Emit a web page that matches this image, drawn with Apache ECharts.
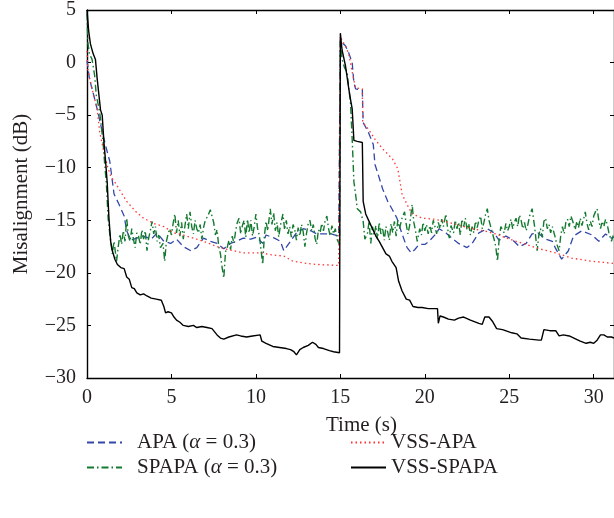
<!DOCTYPE html>
<html>
<head>
<meta charset="utf-8">
<script src="https://cdn.jsdelivr.net/npm/echarts@6/dist/echarts.min.js"></script>
<style>
html,body{margin:0;padding:0;background:#fff;}
#chart{width:614px;height:518px;}
</style>
</head>
<body>
<div id="chart"></div>
<script>
// ---- data (time in s, misalignment in dB) ----
const seriesNames = ['APA (α = 0.3)', 'SPAPA (α = 0.3)', 'VSS-APA', 'VSS-SPAPA'];
const xTicks = [0, 5, 10, 15, 20, 25, 30];
const yTicks = [-30, -25, -20, -15, -10, -5, 0, 5];

const apaData = [
[0,0.2],[0.15,-1.6],[0.35,-2.8],[0.6,-4.4],[0.95,-6.9],[1.15,-8.2],[1.35,-9.4],[1.6,-12.5],[1.9,-13.5],[2.2,-14.6],[2.35,-16.0],[2.6,-16.9],[2.95,-16.7],[3.35,-16.5],[3.8,-16.8],[4.15,-16.2],[4.55,-17.0],[4.95,-17.2],[5.3,-16.8],[5.7,-17.5],[6.15,-17.9],[6.5,-17.6],[6.9,-16.7],[7.3,-17.0],[7.7,-17.2],[8.1,-17.7],[8.5,-17.2],[8.85,-17.0],[9.25,-16.7],[9.7,-16.8],[10.05,-16.6],[10.4,-17.2],[10.6,-16.4],[11.1,-16.7],[11.45,-17.0],[11.65,-17.9],[12.05,-17.0],[12.4,-16.2],[12.8,-15.8],[13.25,-16.0],[13.6,-16.3],[14.0,-16.3],[14.45,-16.3],[14.9,-16.5],
[15.0,2.2],[15.1,1.9],[15.3,1.6],[15.5,0.9],[15.7,0],[15.8,-1.9],[15.9,-2.5],[16.3,-2.6],[16.35,-5.7],[16.65,-6.6],[16.95,-7.8],[17.05,-9.7],[17.25,-10.7],[17.5,-12.0],[17.8,-13.2],[18.05,-13.9],[18.35,-14.8],[18.65,-16.3],[18.95,-17.6],[19.2,-18.1],[19.4,-17.8],[19.65,-17.3],[20.0,-17.3],[20.25,-17.0],[20.65,-16.3],[20.85,-15.8],[21.25,-16.2],[21.6,-16.7],[22.0,-17.2],[22.5,-17.6],[22.8,-17.2],[23.2,-16.2],[23.7,-15.8],[24.1,-16.2],[24.4,-16.9],[24.8,-16.5],[25.15,-16.8],[25.6,-17.5],[26.0,-17.2],[26.35,-16.3],[26.7,-16.2],[27.15,-16.8],[27.55,-17.0],[27.75,-17.7],[28.1,-18.7],[28.3,-18.3],[28.5,-17.9],[28.8,-16.5],[29.3,-16.0],[29.9,-16.4],[30.3,-17.0],[30.7,-16.3],[31.05,-16.7],[31.2,-16.6]
];

const spapaData = [
[0,4.7],[0.05,1.9],[0.15,0.8],[0.3,0.3],[0.45,-1.2],[0.55,-3.1],[0.75,-4.7],[0.95,-7.5],[1.05,-9.7],[1.15,-11.6],[1.25,-14.8],[1.35,-16.3],[1.5,-18.2],[1.6,-17.0],[1.75,-18.9],[1.85,-17.5],[1.95,-16.3],[2.05,-17.3],[2.15,-16.0],[2.25,-17.0],[2.35,-14.8],[2.45,-16.5],[2.55,-17.0],[2.65,-15.8],[2.75,-16.8],[2.85,-17.6],[2.95,-16.2],[3.05,-16.5],[3.15,-17.3],[3.25,-15.9],[3.35,-16.8],[3.45,-16.0],[3.55,-17.9],[3.65,-16.7],[3.75,-16.0],[3.85,-15.1],[3.95,-16.3],[4.05,-15.6],[4.15,-17.0],[4.25,-16.4],[4.35,-17.6],[4.5,-17.2],[4.6,-18.9],[4.7,-17.0],[4.8,-16.3],[4.9,-15.8],[5.0,-16.4],[5.1,-15.3],[5.2,-14.4],[5.3,-16.2],[5.4,-15.0],[5.5,-16.5],[5.6,-15.2],[5.7,-16.8],[5.8,-15.5],[5.9,-14.4],[6.0,-15.8],[6.1,-14.2],[6.2,-15.6],[6.3,-16.3],[6.4,-15.0],[6.5,-15.8],[6.6,-16.2],[6.7,-15.4],[6.8,-16.8],[6.9,-15.7],[7.0,-15.0],[7.15,-14.6],[7.3,-14.0],[7.4,-13.9],[7.5,-15.2],[7.6,-16.4],[7.7,-15.9],[7.8,-17.5],[7.9,-18.2],[8.0,-19.5],[8.1,-20.5],[8.2,-18.0],[8.3,-17.6],[8.4,-16.9],[8.5,-17.8],[8.6,-16.5],[8.7,-17.2],[8.8,-16.0],[8.9,-15.2],[9.0,-14.8],[9.1,-16.3],[9.2,-15.5],[9.3,-15.0],[9.4,-16.6],[9.5,-14.9],[9.6,-16.2],[9.7,-15.0],[9.8,-16.5],[9.9,-15.6],[10.0,-14.4],[10.1,-15.8],[10.2,-16.4],[10.3,-17.8],[10.4,-19.2],[10.5,-16.5],[10.6,-15.1],[10.7,-16.0],[10.85,-13.9],[10.95,-15.4],[11.05,-14.3],[11.15,-16.0],[11.25,-15.2],[11.35,-16.6],[11.45,-15.5],[11.6,-14.4],[11.7,-15.9],[11.8,-15.0],[11.9,-16.3],[12.0,-15.6],[12.1,-16.6],[12.2,-15.4],[12.3,-15.9],[12.4,-16.9],[12.5,-15.7],[12.6,-16.5],[12.7,-15.4],[12.8,-16.1],[12.9,-17.5],[13.0,-16.2],[13.1,-15.3],[13.2,-15.0],[13.3,-16.0],[13.4,-15.4],[13.5,-16.7],[13.6,-17.3],[13.7,-15.9],[13.8,-16.2],[13.9,-15.3],[14.0,-16.0],[14.1,-15.0],[14.2,-14.6],[14.3,-15.8],[14.4,-16.5],[14.5,-15.5],[14.6,-16.3],[14.7,-15.8],[14.8,-16.8],[14.95,-17.3],
[15.0,2.0],[15.1,0.3],[15.25,-0.5],[15.4,-0.9],[15.5,-2.5],[15.6,-3.8],[15.7,-7.3],[15.8,-11.3],[15.9,-12.5],[16.0,-13.9],[16.2,-14.2],[16.35,-15.1],[16.45,-16.8],[16.6,-16.3],[16.7,-15.1],[16.8,-17.2],[16.9,-15.6],[17.0,-16.4],[17.1,-15.5],[17.2,-16.8],[17.3,-15.2],[17.4,-16.3],[17.5,-15.7],[17.6,-16.9],[17.7,-15.6],[17.8,-16.1],[17.9,-16.9],[18.0,-15.3],[18.1,-16.2],[18.2,-15.1],[18.3,-16.5],[18.4,-15.0],[18.5,-15.8],[18.65,-14.8],[18.8,-14.2],[18.9,-15.4],[19.0,-16.3],[19.1,-15.5],[19.25,-13.5],[19.35,-15.2],[19.45,-16.0],[19.55,-17.0],[19.7,-15.8],[19.8,-16.4],[19.9,-15.2],[20.0,-16.0],[20.1,-15.4],[20.2,-16.3],[20.3,-15.5],[20.4,-16.2],[20.5,-15.0],[20.6,-15.6],[20.7,-16.3],[20.8,-15.2],[20.9,-15.8],[21.0,-14.9],[21.1,-15.6],[21.25,-14.4],[21.35,-15.8],[21.45,-16.7],[21.55,-15.5],[21.7,-16.2],[21.8,-15.0],[21.9,-15.8],[22.0,-15.2],[22.1,-16.4],[22.2,-14.9],[22.3,-15.6],[22.4,-14.8],[22.5,-15.9],[22.6,-15.3],[22.7,-16.4],[22.8,-15.6],[22.9,-16.2],[23.0,-15.1],[23.1,-15.7],[23.2,-15.0],[23.3,-14.6],[23.4,-15.8],[23.5,-15.2],[23.6,-14.4],[23.7,-13.9],[23.8,-15.0],[23.9,-15.6],[24.0,-16.2],[24.1,-16.8],[24.2,-17.5],[24.3,-18.9],[24.4,-16.8],[24.5,-15.6],[24.6,-15.5],[24.7,-16.2],[24.8,-15.3],[24.9,-16.0],[25.0,-15.6],[25.1,-14.9],[25.2,-15.8],[25.3,-15.2],[25.4,-14.8],[25.5,-15.6],[25.6,-14.5],[25.7,-15.0],[25.8,-15.8],[25.9,-15.2],[26.0,-16.0],[26.1,-15.4],[26.2,-14.6],[26.35,-13.9],[26.5,-15.6],[26.65,-17.9],[26.75,-16.4],[26.85,-15.8],[26.95,-16.6],[27.05,-15.1],[27.15,-14.8],[27.25,-15.8],[27.35,-15.4],[27.45,-16.2],[27.55,-15.6],[27.7,-16.5],[27.8,-17.2],[27.95,-17.9],[28.05,-16.4],[28.15,-15.6],[28.25,-16.3],[28.35,-15.2],[28.45,-14.9],[28.55,-15.6],[28.65,-14.6],[28.8,-15.3],[28.9,-15.9],[29.0,-15.1],[29.1,-15.7],[29.2,-14.8],[29.3,-15.5],[29.4,-14.9],[29.5,-14.2],[29.6,-15.3],[29.7,-15.9],[29.8,-15.1],[29.9,-15.6],[30.0,-14.6],[30.1,-14.2],[30.2,-13.9],[30.3,-15.0],[30.4,-15.8],[30.5,-15.1],[30.6,-15.6],[30.7,-14.9],[30.8,-15.4],[30.9,-16.2],[31.05,-17.0],[31.2,-16.2]
];

const vssApaData = [
[0,1.1],[0.05,-0.7],[0.3,-2.5],[0.6,-4.4],[0.75,-6.6],[1.0,-8.5],[1.2,-9.8],[1.4,-10.8],[1.7,-11.5],[2.0,-12.3],[2.35,-13.2],[2.9,-14.2],[3.35,-14.8],[3.95,-15.3],[4.55,-15.6],[5.15,-16.2],[5.7,-16.4],[6.3,-16.7],[6.9,-17.0],[7.7,-17.5],[8.1,-17.7],[8.7,-17.9],[9.25,-18.1],[10.3,-18.1],[11.0,-18.3],[11.65,-18.4],[12.2,-18.9],[13.0,-19.1],[13.6,-19.2],[14.9,-19.3],
[15.0,2.5],[15.1,2.1],[15.3,1.6],[15.5,0.8],[15.7,-0.9],[15.9,-2.4],[16.3,-2.5],[16.32,-5.7],[16.65,-6.3],[17.05,-7.3],[17.5,-8.2],[18.1,-9.2],[18.4,-10.1],[18.55,-11.5],[18.65,-12.5],[18.95,-13.5],[19.25,-14.4],[19.85,-14.8],[20.6,-14.9],[21.4,-15.2],[22.1,-15.5],[22.8,-15.8],[23.5,-16.0],[24.2,-16.3],[25.2,-16.9],[26.0,-17.3],[26.75,-17.7],[27.75,-18.1],[28.7,-18.6],[29.9,-18.9],[31.2,-19.1]
];

const vssSpapaData = [
[0,5],[0.1,3.0],[0.2,1.8],[0.35,0.9],[0.5,0.3],[0.6,-1.5],[0.7,-3.0],[0.8,-4.5],[0.9,-5.0],[1.0,-7.5],[1.1,-9.4],[1.2,-11.5],[1.25,-13.2],[1.3,-14.8],[1.4,-17.0],[1.5,-17.9],[1.65,-18.7],[1.8,-19.2],[2.0,-19.5],[2.2,-19.6],[2.35,-20.4],[2.5,-20.6],[2.65,-21.4],[2.8,-21.5],[2.95,-21.9],[3.15,-22.1],[3.35,-22.0],[3.55,-22.2],[3.8,-22.4],[4.1,-22.5],[4.4,-22.6],[4.55,-23.2],[4.65,-23.8],[4.8,-23.7],[5.0,-23.8],[5.15,-24.2],[5.3,-24.5],[5.5,-24.7],[5.7,-25.0],[6.0,-25.1],[6.3,-25.0],[6.5,-25.2],[6.8,-25.1],[7.1,-25.2],[7.4,-25.3],[7.7,-25.9],[7.9,-26.2],[8.1,-26.3],[8.4,-26.1],[8.85,-25.9],[9.1,-26.0],[9.45,-26.1],[9.8,-26.0],[10.25,-25.9],[10.35,-26.5],[10.6,-26.7],[11.0,-27.0],[11.4,-27.1],[11.8,-27.2],[12.05,-27.3],[12.25,-27.5],[12.4,-27.8],[12.6,-27.3],[12.8,-27.1],[13.1,-26.9],[13.35,-26.6],[13.55,-26.8],[13.7,-27.1],[14.0,-27.2],[14.35,-27.4],[14.6,-27.5],[14.95,-27.6],
[15.0,2.8],[15.1,1.2],[15.3,-0.3],[15.5,-2.5],[15.6,-3.5],[15.7,-4.4],[15.8,-7.4],[16.0,-7.5],[16.3,-7.6],[16.35,-13.2],[16.5,-14.4],[16.7,-15.1],[16.9,-15.8],[17.1,-16.5],[17.3,-17.0],[17.5,-17.6],[17.7,-18.2],[17.9,-18.4],[18.05,-18.9],[18.3,-19.5],[18.45,-20.8],[18.65,-21.7],[18.9,-22.5],[19.1,-22.6],[19.3,-23.2],[19.6,-23.3],[19.85,-23.3],[20.2,-23.4],[20.75,-23.4],[20.8,-24.8],[20.9,-24.1],[21.1,-24.2],[21.4,-24.4],[21.75,-24.5],[22.0,-24.3],[22.3,-24.2],[22.7,-24.5],[23.2,-24.8],[23.4,-24.9],[23.55,-24.2],[23.8,-24.2],[24.0,-24.6],[24.25,-25.3],[24.6,-25.4],[25.15,-25.7],[25.45,-25.8],[25.7,-26.2],[26.2,-26.3],[26.75,-26.4],[26.9,-26.4],[27.05,-25.4],[27.4,-25.5],[27.75,-25.5],[27.95,-26.0],[28.2,-25.9],[28.55,-26.0],[28.95,-26.3],[29.2,-26.5],[29.55,-26.7],[29.8,-26.6],[30.0,-26.7],[30.2,-26.4],[30.4,-25.9],[30.6,-25.9],[30.8,-26.1],[31.05,-26.1],[31.2,-26.2]
];

// ---- chart ----
const FONT = "'Liberation Serif', 'DejaVu Serif', serif";
const TXT = '#231f20';
const chart = echarts.init(document.getElementById('chart'), null, {renderer: 'canvas'});

function fmtY(v) { return v < 0 ? '\u2212' + Math.abs(v) : String(v); }
function fmtX(v) { return xTicks.indexOf(v) >= 0 ? String(v) : ''; }

const axisLineStyle = {color: '#000', width: 1.4};
const tickStyle = {show: true, inside: true, length: 4, lineStyle: {color: '#000', width: 1}};

function legendText(pad) {
  return {
    fontFamily: FONT, fontSize: 21, color: TXT, padding: [0, 0, 0, pad],
    rich: {i: {fontFamily: FONT, fontSize: 21, fontStyle: 'italic', color: TXT}}
  };
}
const legendFmt = n => n.replace('α', '{i|α}');

chart.setOption({
  animation: false,
  backgroundColor: '#fff',
  grid: {left: 87, top: 7, right: -2, bottom: 140, containLabel: false},
  legend: [
    {data: [seriesNames[0], seriesNames[1]], orient: 'vertical', left: 86, top: 432, padding: 0,
     itemWidth: 35, itemHeight: 12, itemGap: 4, textStyle: legendText(10), formatter: legendFmt,
     itemStyle: {opacity: 0}},
    {data: [seriesNames[2], seriesNames[3]], orient: 'vertical', left: 350, top: 432, padding: 0,
     itemWidth: 35, itemHeight: 12, itemGap: 4, textStyle: legendText(0), formatter: legendFmt,
     itemStyle: {opacity: 0}}
  ],
  xAxis: [
    {type: 'value', min: 0, max: 31.2, interval: 5, position: 'bottom',
     name: 'Time (s)', nameLocation: 'middle', nameGap: 37,
     nameTextStyle: {fontFamily: FONT, fontSize: 21, color: TXT, padding: [0, 0, 0, 22]},
     axisLine: {show: true, onZero: false, lineStyle: axisLineStyle},
     axisTick: tickStyle, splitLine: {show: false},
     axisLabel: {fontFamily: FONT, fontSize: 20, color: TXT, margin: 10, formatter: fmtX, showMaxLabel: false}},
    {type: 'value', min: 0, max: 31.2, interval: 5, position: 'top',
     axisLine: {show: true, onZero: false, lineStyle: axisLineStyle},
     axisTick: tickStyle, splitLine: {show: false}, axisLabel: {show: false}}
  ],
  yAxis: [
    {type: 'value', min: -30, max: 5, interval: 5, position: 'left',
     name: 'Misalignment (dB)', nameLocation: 'middle', nameGap: 55,
     nameTextStyle: {fontFamily: FONT, fontSize: 21, color: TXT},
     axisLine: {show: true, onZero: false, lineStyle: axisLineStyle},
     axisTick: tickStyle, splitLine: {show: false},
     axisLabel: {fontFamily: FONT, fontSize: 20, color: TXT, margin: 11, formatter: fmtY}},
    {type: 'value', min: -30, max: 5, interval: 5, position: 'right',
     axisLine: {show: true, onZero: false, lineStyle: axisLineStyle},
     axisTick: tickStyle, splitLine: {show: false}, axisLabel: {show: false}}
  ],
  series: [
    {name: seriesNames[0], type: 'line', data: apaData, showSymbol: false, symbol: 'none', z: 2,
     lineStyle: {color: '#3347a8', width: 1.3, type: [7, 4]}, itemStyle: {color: '#3347a8'}},
    {name: seriesNames[1], type: 'line', data: spapaData, showSymbol: false, symbol: 'none', z: 3,
     lineStyle: {color: '#137a2f', width: 1.4, type: [7, 3, 1.5, 3]}, itemStyle: {color: '#137a2f'}},
    {name: seriesNames[2], type: 'line', data: vssApaData, showSymbol: false, symbol: 'none', z: 4,
     lineStyle: {color: '#ff3535', width: 1.3, type: [1.5, 3]}, itemStyle: {color: '#ff3535'}},
    {name: seriesNames[3], type: 'line', data: vssSpapaData, showSymbol: false, symbol: 'none', z: 5,
     lineStyle: {color: '#000000', width: 1.4, type: 'solid'}, itemStyle: {color: '#000000'}}
  ]
});
</script>
</body>
</html>
